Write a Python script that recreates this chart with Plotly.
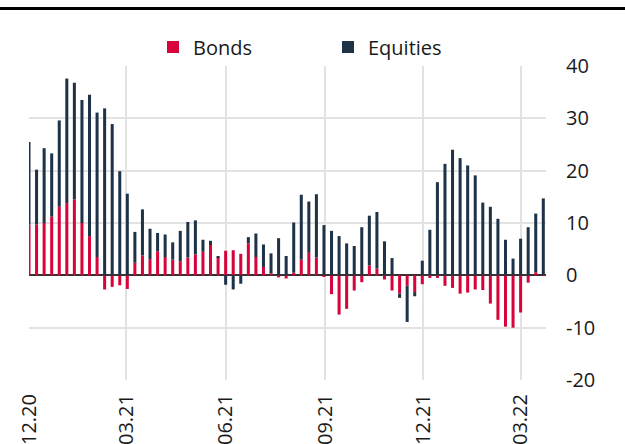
import pandas as pd
import plotly.graph_objects as go

# weekly observation dates (69 weeks starting Dec 2020)
dates = pd.date_range("2020-12-01", periods=69, freq="7D")

bonds = [9.7, 9.7, 10.0, 11.2, 13.1, 13.8, 14.5, 10.0, 7.5, 3.5,
         -2.7, -2.2, -1.9, -2.6, 2.4, 3.8, 3.1, 4.6, 3.5, 3.0,
         2.7, 3.4, 4.0, 4.5, 5.8, 3.5, 4.7, 4.8, 4.1, 6.1,
         3.5, 1.6, 0.4, -0.4, -0.6, 0.5, 3.0, 4.3, 3.4, -0.3,
         -3.6, -7.5, -6.4, -2.9, -1.3, 1.9, 1.3, -0.8, -2.9, -3.5,
         -2.0, -3.2, -1.7, -0.5, -0.5, -2.0, -2.4, -3.5, -3.3, -2.7,
         -2.8, -5.4, -8.5, -9.8, -10.0, -7.1, -1.4, 0.6, -0.1]

equities = [15.8, 10.5, 14.3, 12.1, 16.5, 23.8, 22.3, 23.5, 27.0, 27.6,
            31.9, 28.9, 19.9, 15.6, 5.9, 8.8, 5.8, 3.5, 4.3, 3.3,
            5.8, 6.8, 6.5, 2.3, 0.8, 0.1, -1.8, -2.7, -1.6, 1.2,
            4.5, 4.3, 3.8, 7.1, 3.7, 9.6, 12.4, 9.8, 12.1, 9.6,
            8.5, 7.5, 6.1, 5.6, 9.2, 9.5, 10.8, 6.5, 3.3, -0.8,
            -6.9, -0.8, 2.8, 8.7, 17.8, 21.3, 24.0, 22.4, 21.0, 19.1,
            13.9, 13.1, 10.8, 6.8, 3.2, 7.0, 9.2, 11.2, 14.7]

tick_dates = ["2020-12-01", "2021-03-01", "2021-06-01", "2021-09-01", "2021-12-01", "2022-03-01"]
tick_labels = ["12.20", "03.21", "06.21", "09.21", "12.21", "03.22"]

y_ticks = [-20, -10, 0, 10, 20, 30, 40]
y_tick_labels = ["-20", "-10", "0", "10", "20", "30", "40"]

RED = "#D6043A"
NAVY = "#1E3348"
FONT = "Open Sans"

fig = go.Figure()
fig.add_trace(go.Bar(x=dates, y=bonds, name="Bonds", marker=dict(color=RED, line_width=0)))
fig.add_trace(go.Bar(x=dates, y=equities, name="Equities", marker=dict(color=NAVY, line_width=0)))

W, H = 625, 444
ml, mr, mt, mb = 29, 79, 66, 64
pw = W - ml - mr
ph = H - mt - mb

fig.update_layout(
    width=W, height=H,
    barmode="relative",
    bargap=0.6,
    paper_bgcolor="white",
    plot_bgcolor="white",
    margin=dict(l=ml, r=mr, t=mt, b=mb, autoexpand=False),
    font=dict(family=FONT, size=20, color="#1a1a1a"),
    showlegend=True,
    legend=dict(
        orientation="h",
        x=(153 - ml) / pw, xanchor="left",
        y=(H - mb - 47) / ph, yanchor="middle",
        font=dict(size=20, color="#1a1a1a"),
        entrywidth=130, entrywidthmode="pixels",
        bgcolor="rgba(0,0,0,0)",
        traceorder="normal",
    ),
    xaxis=dict(
        type="date",
        range=["2020-12-01", "2022-03-24 12:00"],
        tickmode="array",
        tickvals=tick_dates,
        ticktext=tick_labels,
        tickangle=-90,
        showgrid=True,
        gridcolor="#e2e2e2",
        gridwidth=1.5,
        ticks="outside",
        ticklen=5,
        tickcolor="rgba(0,0,0,0)",
        showline=False,
        zeroline=False,
        automargin=False,
        tickfont=dict(size=20, color="#1a1a1a"),
    ),
    yaxis=dict(
        side="right",
        range=[-20, 40],
        tickmode="array",
        tickvals=y_ticks,
        ticktext=y_tick_labels,
        showgrid=True,
        gridcolor="#e2e2e2",
        gridwidth=1.5,
        zeroline=True,
        zerolinecolor="#333333",
        zerolinewidth=2,
        ticks="outside",
        ticklen=15,
        tickcolor="rgba(0,0,0,0)",
        showline=False,
        automargin=False,
        tickfont=dict(size=20, color="#1a1a1a"),
    ),
    shapes=[dict(
        type="line", xref="paper", yref="paper",
        x0=-ml / pw, x1=(W - ml) / pw,
        y0=(H - mb - 8.5) / ph, y1=(H - mb - 8.5) / ph,
        line=dict(color="black", width=3),
    )],
)

fig.write_html(
    "out.html",
    config={"displayModeBar": False},
    post_script="document.body.style.margin='0';document.body.style.overflow='hidden';",
)
